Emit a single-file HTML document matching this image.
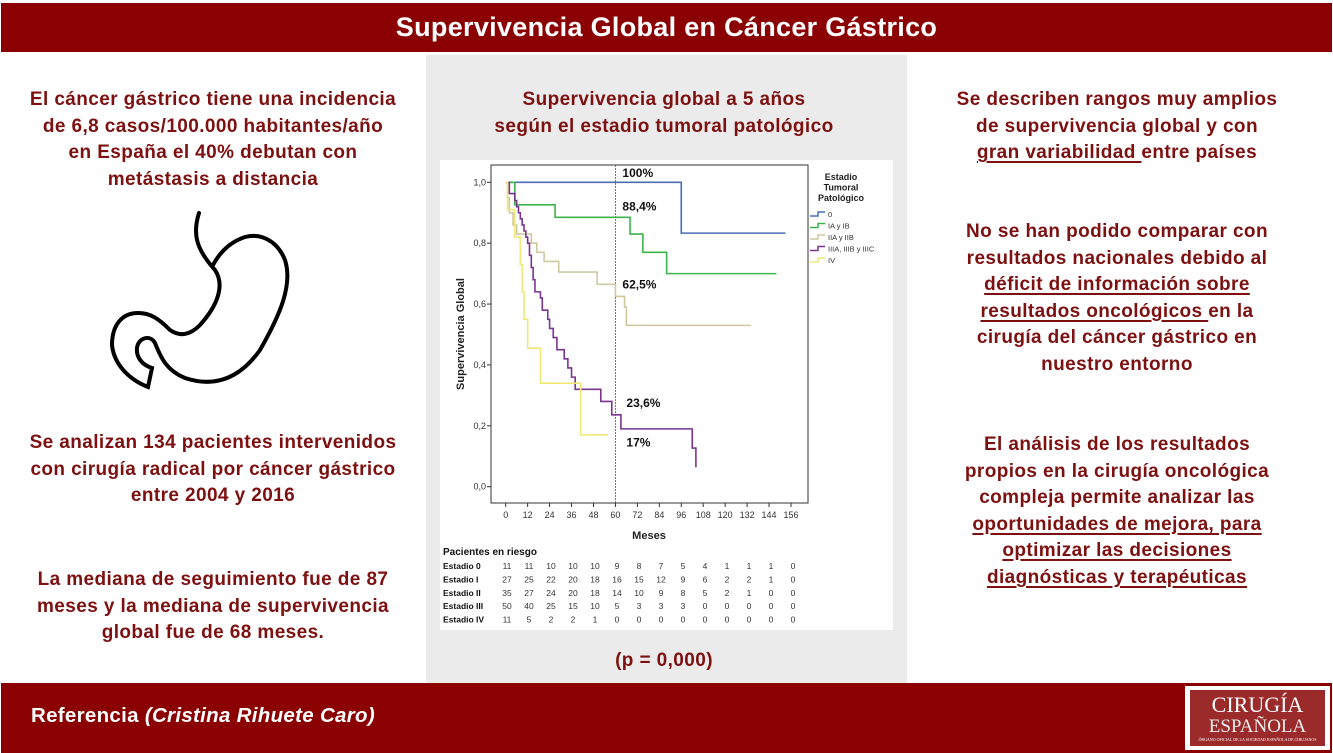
<!DOCTYPE html>
<html><head><meta charset="utf-8">
<style>
body{margin:0;width:1333px;height:753px;position:relative;background:#fff;font-family:"Liberation Sans",sans-serif;overflow:hidden}
.hdr{position:absolute;left:1px;top:3px;width:1331px;height:49px;background:#8b0000;color:#fff;font-weight:bold;font-size:27px;letter-spacing:0.3px;text-align:center;line-height:49px}
.ftr{position:absolute;left:1px;top:683px;width:1331px;height:70px;background:#8b0000}
.txt{position:absolute;color:#7d1010;font-weight:bold;font-size:19px;letter-spacing:0.4px;line-height:26.6px;text-align:center;width:420px}
u{text-decoration-thickness:1.5px;text-underline-offset:3px}
.panel{position:absolute;left:426px;top:55px;width:481px;height:628px;background:#ebebeb}
</style></head><body>
<div class="hdr">Supervivencia Global en Cáncer Gástrico</div>
<div class="panel"></div>

<div class="txt" style="left:3px;top:87px">El cáncer gástrico tiene una incidencia<br>de 6,8 casos/100.000 habitantes/año<br>en España el 40% debutan con<br>metástasis a distancia</div>
<svg style="position:absolute;left:100px;top:200px" width="200" height="200">
<path d="M99,13 C92,35 97,50 115,70 C125,85 118,105 100,125 C90,135 80,137 70,130 C58,118 50,113 38,113 C22,113 12,125 12,145 C14,165 30,180 48,187 L52,168 C42,165 36,157 37,148 C38,138 50,134 55,143 C60,155 65,170 85,178 C115,188 140,178 160,150 C180,115 193,85 185,60 C177,40 160,33 145,37 C130,42 120,52 113,65" fill="none" stroke="#000" stroke-width="4" stroke-linecap="round"/>
</svg>
<div class="txt" style="left:3px;top:430px">Se analizan 134 pacientes intervenidos<br>con cirugía radical por cáncer gástrico<br>entre 2004 y 2016</div>
<div class="txt" style="left:3px;top:567px">La mediana de seguimiento fue de 87<br>meses y la mediana de supervivencia<br>global fue de 68 meses.</div>

<div class="txt" style="left:454px;top:87px">Supervivencia global a 5 años<br>según el estadio tumoral patológico</div>
<div class="txt" style="left:454px;top:648px">(p = 0,000)</div>

<div class="txt" style="left:907px;top:87px">Se describen rangos muy amplios<br>de supervivencia global y con<br><u>gran variabilidad </u>entre países</div>
<div class="txt" style="left:907px;top:219px">No se han podido comparar con<br>resultados nacionales debido al<br><u>déficit de información sobre</u><br><u>resultados oncológicos </u>en la<br>cirugía del cáncer gástrico en<br>nuestro entorno</div>
<div class="txt" style="left:907px;top:432px">El análisis de los resultados<br>propios en la cirugía oncológica<br>compleja permite analizar las<br><u>oportunidades de mejora, para</u><br><u>optimizar las decisiones</u><br><u>diagnósticas y terapéuticas</u></div>

<svg id="chart" style="position:absolute;left:0;top:0" width="1333" height="753">
<rect x="440" y="160" width="453" height="470" fill="#fff"/>
</svg>

<div class="ftr">
<div style="position:absolute;left:30px;top:21px;color:#fff;font-weight:bold;font-size:20.5px;letter-spacing:0.3px">Referencia <i>(Cristina Rihuete Caro)</i></div>
<div style="position:absolute;left:1184px;top:3px;width:145px;height:64px;background:#fff">
<div style="position:absolute;left:5px;top:4px;width:135px;height:56px;background:#9b2a2a;color:#fff;text-align:center;font-family:'Liberation Serif',serif">
<div style="font-size:22px;line-height:24px;margin-top:3px">CIRUGÍA</div>
<div style="font-size:19px;line-height:20px;color:#eee">ESPAÑOLA</div>
<div style="font-size:4px;line-height:5px">ÓRGANO OFICIAL DE LA SOCIEDAD ESPAÑOLA DE CIRUJANOS</div>
</div></div>
</div>

<script>
const xTicks=[0,12,24,36,48,60,72,84,96,108,120,132,144,156];
const yTicks=[0,0.2,0.4,0.6,0.8,1.0];
const yTickLabels=["0,0","0,2","0,4","0,6","0,8","1,0"];
const seriesNames=["0","IA y IB","IIA y IIB","IIIA, IIIB y IIIC","IV"];
const seriesColors=["#4a6eb0","#3cb44b","#cfc9a0","#7a3590","#f2e878"];
const t0=[0,96,153], s0=[1,0.833,0.833];
const t1=[0,3,5,27,68,75,88,148], s1=[1,1,0.926,0.885,0.83,0.77,0.70,0.70];
const t2=[0,1,2,4,6,14,17,21,29,50,60,65,66,134], s2=[1,0.95,0.9,0.86,0.83,0.80,0.77,0.74,0.705,0.665,0.625,0.59,0.53,0.53];
const t3=[0,2,5,6,7,8,9,10,11,12,13,14,15,16,19,20,23,24,26,28,32,34,36,38,52,58,63,102,104,104], s3=[1,0.963,0.94,0.92,0.90,0.88,0.86,0.84,0.82,0.80,0.76,0.72,0.68,0.64,0.62,0.58,0.55,0.52,0.49,0.45,0.42,0.39,0.36,0.32,0.28,0.236,0.19,0.127,0.127,0.064];
const t4=[0,1,5,8,9,10,12,19,41,56], s4=[1,0.91,0.82,0.73,0.64,0.55,0.455,0.34,0.17,0.17];
const annotLabels=["100%","88,4%","62,5%","23,6%","17%"];
const annotValues=[1.03,0.92,0.665,0.275,0.145];
const riskRows=["Estadio 0","Estadio I","Estadio II","Estadio III","Estadio IV"];
const risk0=[11,11,10,10,10,9,8,7,5,4,1,1,1,0];
const risk1=[27,25,22,20,18,16,15,12,9,6,2,2,1,0];
const risk2=[35,27,24,20,18,14,10,9,8,5,2,1,0,0];
const risk3=[50,40,25,15,10,5,3,3,3,0,0,0,0,0];
const risk4=[11,5,2,2,1,0,0,0,0,0,0,0,0,0];

const svg=document.getElementById('chart');
const NS='http://www.w3.org/2000/svg';
const X=m=>505.7+m*(791-505.7)/156;
const Y=v=>486.7-v*(486.7-182.3);
function el(tag,attrs,text){const e=document.createElementNS(NS,tag);for(const k in attrs)e.setAttribute(k,attrs[k]);if(text!==undefined)e.textContent=text;svg.appendChild(e);return e;}
let e;
e=el('rect',{x:491,y:165,width:317,height:338,fill:'none',stroke:'#333','stroke-width':1});


yTicks.forEach((v,i)=>{
 e=el('line',{x1:487,x2:491,y1:Y(v),y2:Y(v),stroke:'#333'});
 
 
 e=el('text',{x:486,y:Y(v)+3,'font-size':9,'text-anchor':'end',fill:'#333'},yTickLabels[i]);
 
 
});
xTicks.forEach(m=>{
 e=el('line',{x1:X(m),x2:X(m),y1:503,y2:507,stroke:'#333'});
 
 
 e=el('text',{x:X(m),y:518,'font-size':9,'text-anchor':'middle',fill:'#333'},String(m));
 
 
});
e=el('text',{x:649,y:539,'font-size':11,'font-weight':'bold','text-anchor':'middle',fill:'#222'},'Meses');


e=el('text',{x:0,y:0,'font-size':11,'font-weight':'bold','text-anchor':'middle',fill:'#222',transform:'translate(464,334) rotate(-90)'},'Supervivencia Global');


e=el('line',{x1:X(60),x2:X(60),y1:165,y2:503,stroke:'#555','stroke-width':0.8,'stroke-dasharray':'2,1'});


const allT=[t0,t1,t2,t3,t4], allS=[s0,s1,s2,s3,s4];
allT.forEach((t,k)=>{
 const s=allS[k];let d='M'+X(t[0])+','+Y(s[0]);
 for(let i=1;i<t.length;i++){d+=' H'+X(t[i])+' V'+Y(s[i]);}
 e=el('path',{d:d,fill:'none',stroke:seriesColors[k],'stroke-width':1.6});
 
 
});
annotLabels.forEach((l,i)=>{
 e=el('text',{x:X(60)+7+(i>=3?4:0),y:Y(annotValues[i])+4,'font-size':12,'font-weight':'bold',fill:'#111'},l);
 
 
});
["Estadio","Tumoral","Patológico"].forEach((l,i)=>{
 e=el('text',{x:841,y:180+i*10.5,'font-size':9,'font-weight':'bold','text-anchor':'middle',fill:'#222'},l);
 
 
});
seriesNames.forEach((n,i)=>{
 const y=214+i*11.5;
 e=el('path',{d:`M810,${y+2} H818 V${y-2} H825`,fill:'none',stroke:seriesColors[i],'stroke-width':1.5});
 
 
 e=el('text',{x:828,y:y+3,'font-size':7.5,fill:'#333'},n);
 
 
});
e=el('text',{x:443,y:555,'font-size':10,'font-weight':'bold',fill:'#111'},'Pacientes en riesgo');


const risks=[risk0,risk1,risk2,risk3,risk4];
riskRows.forEach((r,i)=>{
 const y=569+i*13.4;
 e=el('text',{x:443,y:y,'font-size':8.5,'font-weight':'bold',fill:'#111'},r);
 
 
 risks[i].forEach((v,j)=>{
  e=el('text',{x:507+j*22,y:y,'font-size':8.5,'text-anchor':'middle',fill:'#333'},String(v));
  
  
 });
});
</script>
</body></html>
